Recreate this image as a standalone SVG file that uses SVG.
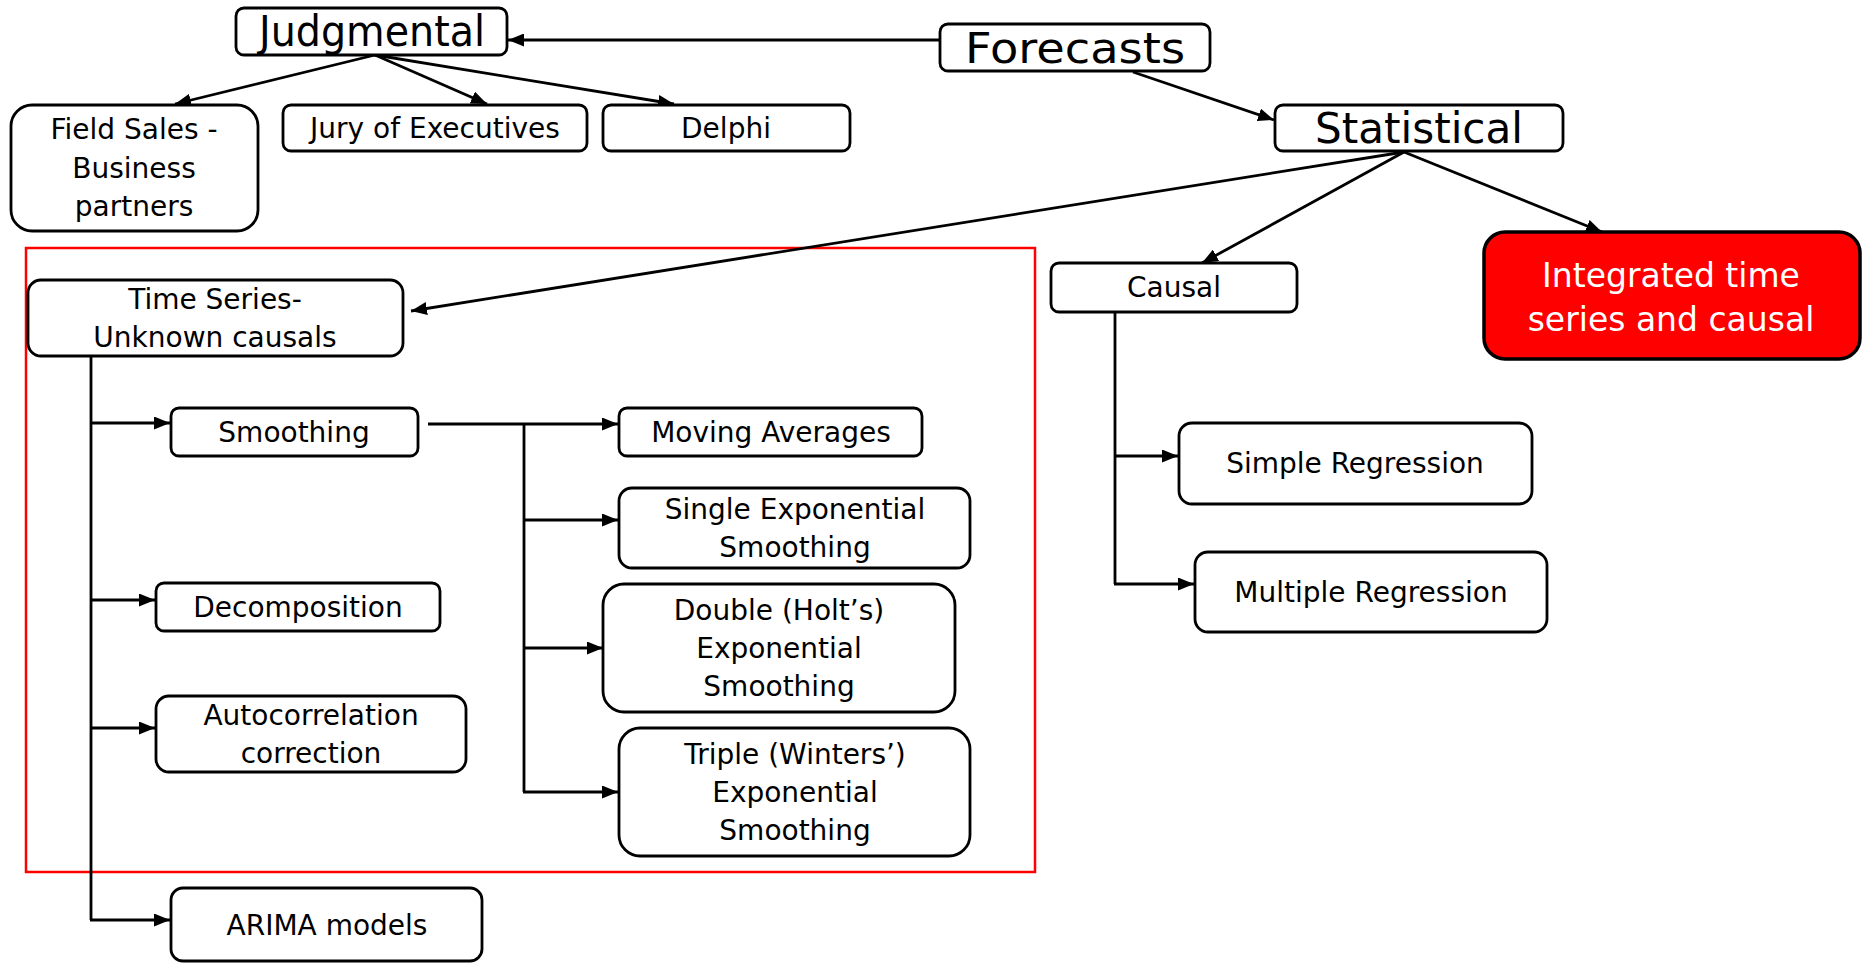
<svg xmlns="http://www.w3.org/2000/svg" width="1866" height="963" viewBox="0 0 1866 963">
<style>
.box{fill:#fff;stroke:#000;stroke-width:2.8}
.red{fill:#ff0000;stroke:#000;stroke-width:3.5}
.t{font-family:"DejaVu Sans","Liberation Sans",sans-serif;font-size:28px;text-anchor:middle;fill:#000}
.big{font-size:42px}
.w{fill:#fff;font-size:33px}
.c{stroke:#000;stroke-width:2.8;fill:none}
.a{stroke:#000;stroke-width:2.8;fill:none;marker-end:url(#ah)}
</style>
<defs>
<marker id="ah" markerUnits="userSpaceOnUse" viewBox="0 0 16 13" markerWidth="16" markerHeight="13" refX="16" refY="6.5" orient="auto">
<path d="M0,0 L16,6.5 L0,13 Z" fill="#000"/>
</marker>
</defs>
<rect id="timeseries-frame" x="26" y="248" width="1009" height="624" fill="none" stroke="#ff0000" stroke-width="2.5"/>
<g id="connectors">
<line class="a" x1="940" y1="40" x2="508" y2="40"/>
<line class="a" x1="375" y1="55" x2="175" y2="104"/>
<line class="a" x1="375" y1="55" x2="487" y2="104"/>
<line class="a" x1="375" y1="55" x2="674" y2="104"/>
<line class="a" x1="1133" y1="72" x2="1274" y2="120"/>
<line class="a" x1="1404" y1="152" x2="411" y2="311"/>
<line class="a" x1="1404" y1="152" x2="1202" y2="263"/>
<line class="a" x1="1404" y1="152" x2="1602" y2="232"/>
<line class="c" x1="91" y1="357" x2="91" y2="920"/>
<line class="a" x1="91" y1="423" x2="170" y2="423"/>
<line class="a" x1="91" y1="600" x2="155" y2="600"/>
<line class="a" x1="91" y1="728" x2="155" y2="728"/>
<line class="a" x1="90" y1="920" x2="170" y2="920"/>
<line class="c" x1="428" y1="424" x2="524" y2="424"/>
<line class="c" x1="524" y1="424" x2="524" y2="792"/>
<line class="a" x1="524" y1="424" x2="618" y2="424"/>
<line class="a" x1="524" y1="520" x2="618" y2="520"/>
<line class="a" x1="524" y1="648" x2="603" y2="648"/>
<line class="a" x1="523" y1="792" x2="618" y2="792"/>
<line class="c" x1="1115" y1="313" x2="1115" y2="584"/>
<line class="a" x1="1115" y1="456" x2="1178" y2="456"/>
<line class="a" x1="1114" y1="584" x2="1194" y2="584"/>
</g>
<g id="judgmental"><rect class="box" x="236" y="8" width="271" height="47" rx="8"/><text class="t big" x="372" y="46" textLength="226" lengthAdjust="spacingAndGlyphs">Judgmental</text></g>
<g id="forecasts"><rect class="box" x="940" y="24" width="270" height="47" rx="8"/><text class="t big" x="1075" y="63" textLength="220" lengthAdjust="spacingAndGlyphs">Forecasts</text></g>
<g id="statistical"><rect class="box" x="1275" y="105" width="288" height="46" rx="8"/><text class="t big" x="1419" y="143" textLength="208" lengthAdjust="spacingAndGlyphs">Statistical</text></g>
<g id="field-sales"><rect class="box" x="11" y="105" width="247" height="126" rx="21"/><text class="t" x="134" y="139">Field Sales -</text><text class="t" x="134" y="178">Business</text><text class="t" x="134" y="216">partners</text></g>
<g id="jury"><rect class="box" x="283" y="105" width="304" height="46" rx="8"/><text class="t" x="435" y="138">Jury of Executives</text></g>
<g id="delphi"><rect class="box" x="603" y="105" width="247" height="46" rx="8"/><text class="t" x="726" y="138">Delphi</text></g>
<g id="causal"><rect class="box" x="1051" y="263" width="246" height="49" rx="8"/><text class="t" x="1174" y="297">Causal</text></g>
<g id="integrated"><rect class="red" x="1484" y="232" width="376" height="127" rx="21"/><text class="t w" x="1671" y="287">Integrated time</text><text class="t w" x="1671" y="331">series and causal</text></g>
<g id="time-series"><rect class="box" x="28" y="280" width="375" height="76" rx="13"/><text class="t" x="215" y="309">Time Series-</text><text class="t" x="215" y="347">Unknown causals</text></g>
<g id="smoothing"><rect class="box" x="171" y="408" width="247" height="48" rx="8"/><text class="t" x="294" y="442">Smoothing</text></g>
<g id="decomposition"><rect class="box" x="156" y="583" width="284" height="48" rx="8"/><text class="t" x="298" y="617">Decomposition</text></g>
<g id="autocorrelation"><rect class="box" x="156" y="696" width="310" height="76" rx="13"/><text class="t" x="311" y="725">Autocorrelation</text><text class="t" x="311" y="763">correction</text></g>
<g id="arima"><rect class="box" x="171" y="888" width="311" height="73" rx="12"/><text class="t" x="327" y="935">ARIMA models</text></g>
<g id="moving-averages"><rect class="box" x="619" y="408" width="303" height="48" rx="8"/><text class="t" x="771" y="442">Moving Averages</text></g>
<g id="single-exp"><rect class="box" x="619" y="488" width="351" height="80" rx="13"/><text class="t" x="795" y="519">Single Exponential</text><text class="t" x="795" y="557">Smoothing</text></g>
<g id="double-exp"><rect class="box" x="603" y="584" width="352" height="128" rx="21"/><text class="t" x="779" y="620">Double (Holt’s)</text><text class="t" x="779" y="658">Exponential</text><text class="t" x="779" y="696">Smoothing</text></g>
<g id="triple-exp"><rect class="box" x="619" y="728" width="351" height="128" rx="21"/><text class="t" x="795" y="764">Triple (Winters’)</text><text class="t" x="795" y="802">Exponential</text><text class="t" x="795" y="840">Smoothing</text></g>
<g id="simple-regression"><rect class="box" x="1179" y="423" width="353" height="81" rx="13"/><text class="t" x="1355" y="473">Simple Regression</text></g>
<g id="multiple-regression"><rect class="box" x="1195" y="552" width="352" height="80" rx="13"/><text class="t" x="1371" y="602">Multiple Regression</text></g>
</svg>
